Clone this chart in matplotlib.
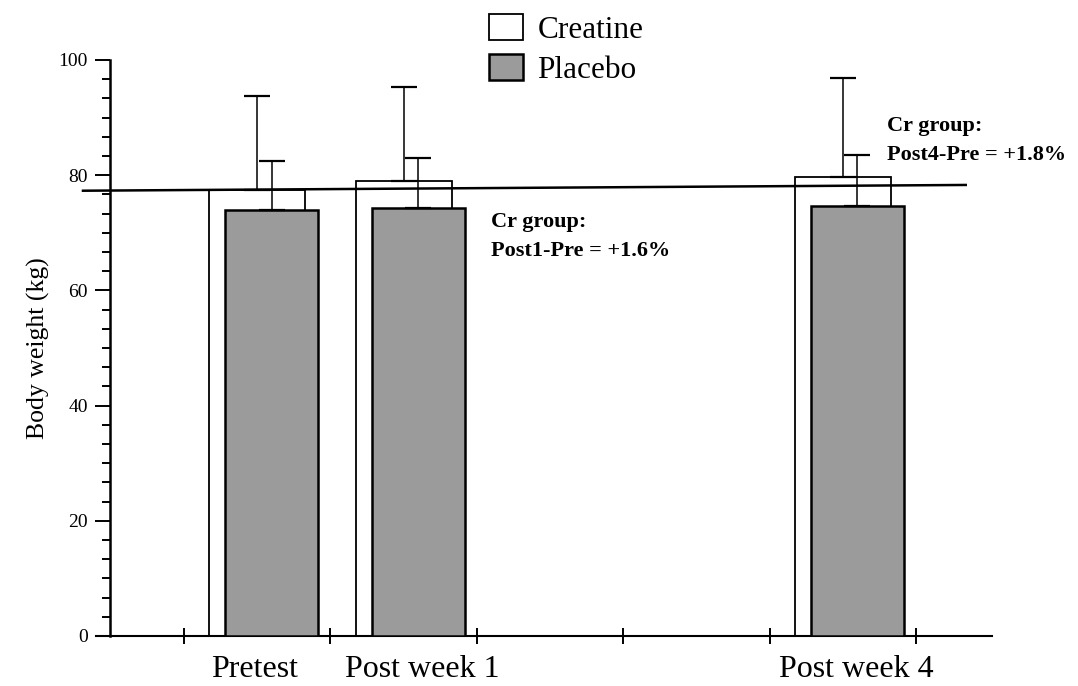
import matplotlib
matplotlib.use("Agg")
import matplotlib.pyplot as plt
from matplotlib.ticker import MultipleLocator, AutoMinorLocator

# data (kg)
groups = ["Pretest", "Post week 1", "Post week 4"]
creatine = [77.4, 79.0, 79.7]
creatine_sd = [16.3, 16.3, 17.2]
placebo = [74.0, 74.3, 74.7]
placebo_sd = [8.5, 8.7, 8.8]
ref_line = [77.3, 78.3]   # line through the pretest Cr mean (slightly tilted scan)
notes = ["Cr group:\nPost1-Pre = +1.6%", "Cr group:\nPost4-Pre = +1.8%"]

# layout
xpos = [0.5, 1.5, 4.5]
offset = 0.1
label_pos = [0.48, 1.63, 4.59]
note_pos = [(2.10, 69.3), (4.80, 86.0)]

serif = "Liberation Serif"

fig = plt.figure(figsize=(10.78, 6.86), dpi=100)
ax = fig.add_axes([0.0892, 0.0729, 0.8311, 0.8397])

bc = ax.bar(xpos, creatine, width=0.656, facecolor="white", edgecolor="black",
            linewidth=1.3, zorder=2, label="Creatine")
ax.errorbar(xpos, creatine, yerr=[[0] * 3, creatine_sd], fmt="none", ecolor="black",
            elinewidth=1.1, capsize=9.4, capthick=1.6, zorder=3)

# reference line, drawn over the creatine bars
ax.plot([-0.69, 5.34], ref_line, color="black", linewidth=1.8, zorder=4, clip_on=False)

px = [x + offset for x in xpos]
bp = ax.bar(px, placebo, width=0.635, facecolor="#9b9b9b", edgecolor="black",
            linewidth=1.8, zorder=5, label="Placebo")
ax.errorbar(px, placebo, yerr=[[0] * 3, placebo_sd], fmt="none", ecolor="black",
            elinewidth=1.1, capsize=9.4, capthick=1.6, zorder=6)

ax.set_xlim(-0.6, 5.52)
ax.set_ylim(0, 100)

for s in ["top", "right"]:
    ax.spines[s].set_visible(False)
ax.spines["left"].set_position(("data", -0.505))
ax.spines["left"].set_linewidth(1.8)
ax.spines["bottom"].set_linewidth(1.5)

ax.yaxis.set_major_locator(MultipleLocator(20))
ax.yaxis.set_minor_locator(AutoMinorLocator(6))
ax.tick_params(axis="y", which="major", direction="out", length=11, width=1.4,
               pad=5, labelsize=14)
ax.tick_params(axis="y", which="minor", direction="out", length=6, width=1.4)
for t in ax.get_yticklabels():
    t.set_fontfamily(serif)

ax.set_xticks(range(6))
ax.set_xticklabels([])
ax.tick_params(axis="x", which="major", direction="inout", length=11, width=1.4)
ax.set_xticks(label_pos, minor=True)
ax.set_xticklabels(groups, minor=True, fontfamily=serif, fontsize=23)
ax.tick_params(axis="x", which="minor", length=0, pad=14)

ax.set_ylabel("Body weight (kg)", fontfamily=serif, fontsize=18.5, labelpad=6)

for txt, (x, y) in zip(notes, note_pos):
    ax.text(x, y, txt, fontfamily=serif, fontsize=16, fontweight="bold",
            ha="left", va="center", linespacing=1.6)

ax.legend(handles=[bc, bp], loc="upper left", bbox_to_anchor=(489 / 1078, 1 - 14 / 686),
          bbox_transform=fig.transFigure, frameon=False, borderpad=0, borderaxespad=0,
          handlelength=1.1, handleheight=0.9, handletextpad=0.45, labelspacing=0.3,
          prop={"family": serif, "size": 22.5})

fig.savefig("out.png", dpi=100)
